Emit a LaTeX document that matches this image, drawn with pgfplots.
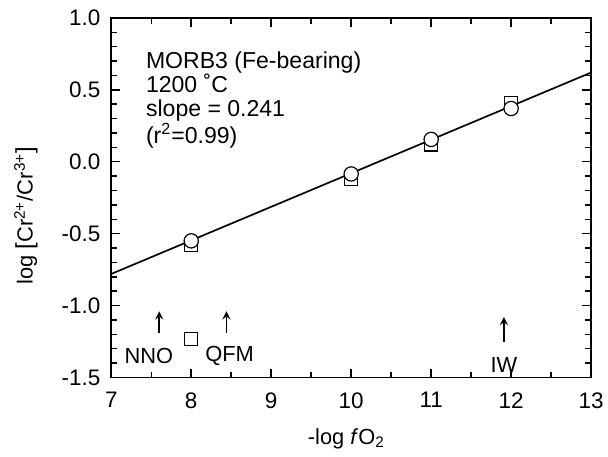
\documentclass[border=0pt]{standalone}
\usepackage{fontspec}
\setmainfont{Liberation Sans}
\usepackage{pgfplots}
\pgfplotsset{compat=1.18}
\begin{document}
\begin{tikzpicture}
\begin{axis}[
  scale only axis, width=241.5pt, height=181pt,
  xmin=7, xmax=13, ymin=-1.5, ymax=1.0,
  xtick={7,8,...,13}, minor xtick={7.5,8.5,...,12.5},
  ytick={-1.5,-1.0,...,1.0}, minor y tick num=4,
  tick align=inside, xtick pos=both, ytick pos=both,
  xticklabel pos=lower, yticklabel pos=left,
  major tick length=4.5pt, minor tick length=3pt,
  every tick/.style={black, line width=0.75pt},
  axis line style={line width=0.85pt},
  /pgf/number format/assume math mode=true,
  yticklabel style={/pgf/number format/fixed, /pgf/number format/fixed zerofill, /pgf/number format/precision=1},
  xticklabel style={font=\fontsize{11.3}{13}\selectfont, yshift=-4pt},
  yticklabel style={font=\fontsize{11.3}{13}\selectfont, xshift=-2pt},
  xlabel={-log \textit{f}O\textsubscript{2}},
  ylabel={log {\large[}Cr\textsuperscript{2+}/Cr\textsuperscript{3+}{\large]}},
  xlabel style={font=\fontsize{11}{13}\selectfont, at={(axis description cs:0.49,-0.17)}, anchor=center},
  ylabel style={font=\fontsize{11}{13}\selectfont, at={(axis description cs:-0.178,0.45)}, anchor=center},
  clip=false,
]
\addplot[black, line width=0.85pt] coordinates {(7,-0.78) (13,0.62)};
\addplot[only marks, mark=square*, mark size=3.3pt, mark options={fill=white, draw=black, line width=0.6pt}]
  coordinates {(8,-0.58) (10,-0.12) (11,0.12) (12,0.41) (8,-1.23)};
\addplot[only marks, mark=*, mark size=3.6pt, mark options={fill=white, draw=black, line width=0.6pt}]
  coordinates {(8,-0.55) (10,-0.085) (11,0.155) (12,0.37)};
\node[anchor=north west, align=left, inner sep=0pt, font=\fontsize{11.6}{12.2}\selectfont]
  at (axis cs:7.43,0.77) {MORB3 (Fe-bearing)\\1200 ˚C\\slope = 0.241\\(r\textsuperscript{2}=0.99)};
\draw[->, line width=0.8pt, >=stealth] (axis cs:7.6,-1.19) -- (axis cs:7.6,-1.04);
\draw[->, line width=0.8pt, >=stealth] (axis cs:8.44,-1.19) -- (axis cs:8.44,-1.04);
\draw[->, line width=0.8pt, >=stealth] (axis cs:11.91,-1.25) -- (axis cs:11.91,-1.08);
\node[font=\fontsize{11}{13}\selectfont] at (axis cs:7.47,-1.35) {NNO};
\node[font=\fontsize{11}{13}\selectfont] at (axis cs:8.48,-1.35) {QFM};
\node[font=\fontsize{11}{13}\selectfont] at (axis cs:11.91,-1.41) {IW};
\end{axis}
\pgfresetboundingbox
\path[use as bounding box] (-56pt,-40pt) rectangle (250pt,190pt);
\end{tikzpicture}
\end{document}
